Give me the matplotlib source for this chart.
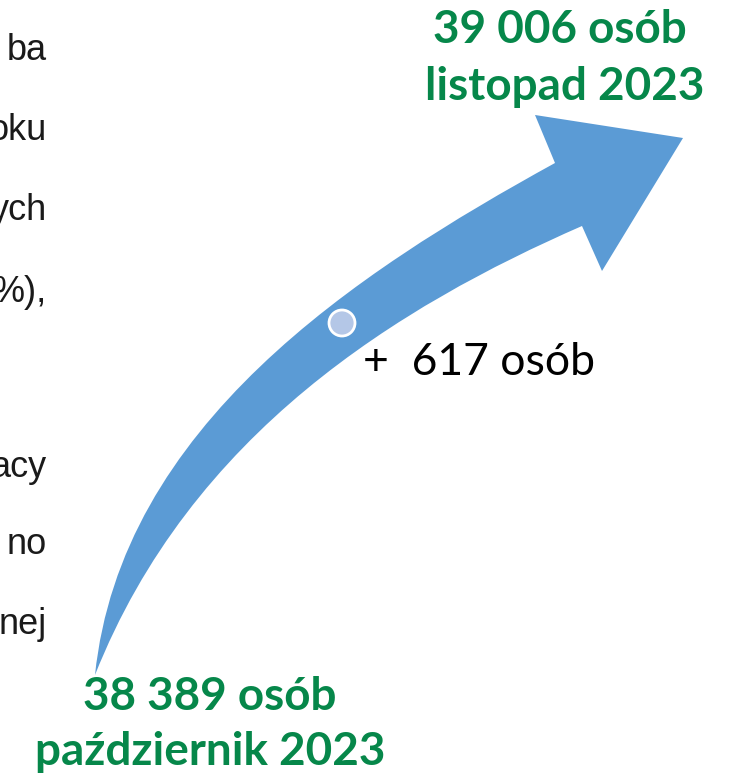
import matplotlib
matplotlib.use("Agg")
import matplotlib.pyplot as plt
from matplotlib.path import Path
from matplotlib.patches import PathPatch, Circle

# Values
start_count = 38389
end_count = 39006
start_label = "październik 2023"
end_label = "listopad 2023"
change = end_count - start_count  # 617

# cropped paragraph fragments on the left edge
side_text = ["ba", "oku", "ych", "%),", "", "acy", "no", "nej"]
side_y = [50, 130, 210, 292, 380, 467, 545, 625]


def fmt(n):
    return f"{n:,}".replace(",", " ")


green = "#06874a"
blue = "#5b9bd5"

fig = plt.figure(figsize=(7.30, 7.78), dpi=100)
ax = fig.add_axes([0, 0, 1, 1])
ax.set_xlim(0, 730)
ax.set_ylim(778, 0)
ax.axis("off")

# curved arrow (pixel coordinates of the figure)
verts = [
    (95, 675),
    (121, 426), (355, 273), (555, 163),   # upper edge
    (535, 115),                            # head back corner
    (683, 138),                            # tip
    (602, 271),                            # head lower corner
    (582, 226),                            # notch
    (399, 306), (191, 433), (95, 675),    # lower edge back to tail
    (95, 675),
]
codes = [Path.MOVETO,
         Path.CURVE4, Path.CURVE4, Path.CURVE4,
         Path.LINETO, Path.LINETO, Path.LINETO, Path.LINETO,
         Path.CURVE4, Path.CURVE4, Path.CURVE4,
         Path.CLOSEPOLY]
ax.add_patch(PathPatch(Path(verts, codes), facecolor=blue, edgecolor="none"))

ax.add_patch(Circle((342, 323), 13, facecolor="#b4c7e7", edgecolor="white", lw=2))

for t, y in zip(side_text, side_y):
    ax.text(47, y, t, ha="right", va="center", fontsize=26,
            family="Liberation Sans", color="#1a1a1a")

ax.text(560, 30, f"{fmt(end_count)} osób", ha="center", va="center",
        fontsize=33, fontweight="bold", family="Lato", color=green)
ax.text(565, 87, end_label, ha="center", va="center",
        fontsize=33, fontweight="bold", family="Lato", color=green)

ax.text(210, 697, f"{fmt(start_count)} osób", ha="center", va="center",
        fontsize=33, fontweight="bold", family="Lato", color=green)
ax.text(210, 752, start_label, ha="center", va="center",
        fontsize=33, fontweight="bold", family="Lato", color=green)

ax.text(363, 362, f"+  {change} osób", ha="left", va="center",
        fontsize=32, family="Lato", color="black")

fig.savefig("out.png", dpi=100)
